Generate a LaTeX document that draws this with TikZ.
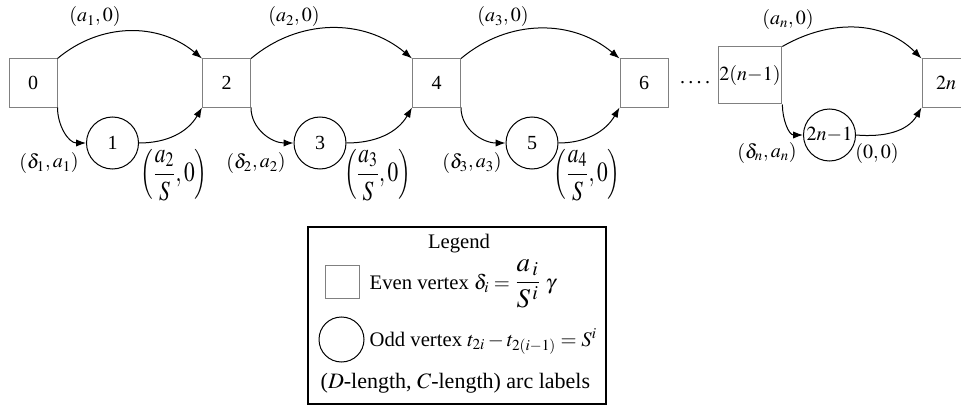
\documentclass[tikz,border=0pt]{standalone}
\usepackage{amsmath}
\usepackage{graphicx}
\usepackage{mathptmx}
\usepackage[no-math]{fontspec}
\setmainfont{Liberation Serif}
\usetikzlibrary{arrows.meta}

\begin{document}
\begin{tikzpicture}[x=0.75pt, y=0.75pt, >={Latex[length=7.5pt,width=5.5pt]},
  every node/.style={font=\fontsize{15}{18}\selectfont},
  even/.style={draw=gray, line width=0.75pt, minimum width=36pt, minimum height=36pt, inner sep=1pt},
  odd/.style={draw, circle, line width=0.75pt, minimum size=39pt, inner sep=1pt},
  arc/.style={->, line width=0.75pt},
  lbl/.style={inner sep=1pt},
  fraclbl/.style={inner sep=1pt, font=\fontsize{16}{19}\selectfont},
  legtxt/.style={anchor=base west, font=\fontsize{15.5}{18}\selectfont}]
  \useasboundingbox (0,0) rectangle (961,408);

  % Even vertices (boxes)
  \node[even] (v0) at (33,325) {0};
  \node[even] (v2) at (226.5,325) {2};
  \node[even] (v4) at (436.5,325) {4};
  \node[even] (v6) at (644,325) {6};
  \node[even, minimum width=46.5pt, minimum height=42.75pt] (vm) at (750,332.5) {$2(n{-}1)$};
  \node[even] (vn) at (946,325) {$2n$};

  % Odd vertices (circles)
  \node[odd] (v1) at (112.5,265) {1};
  \node[odd] (v3) at (320,265) {3};
  \node[odd] (v5) at (532,265) {5};
  \node[odd] (vo) at (829.5,273) {$2n{-}1$};

  \node (dots) at (695,325) {.\,.\,.\,.};

  % Arcs over the top
  \draw[arc] (v0.north east) to[out=40,in=140] (v2.north west);
  \draw[arc] (v2.north east) to[out=40,in=140] (v4.north west);
  \draw[arc] (v4.north east) to[out=40,in=140] (v6.north west);
  \draw[arc] (vm.north east) to[out=30,in=135] (vn.north west);

  % Arcs through the odd vertices
  \draw[arc] (v0.south east) to[out=-90,in=180] (v1.west);
  \draw[arc] (v1.east) to[out=0,in=-120] (v2.south west);
  \draw[arc] (v2.south east) to[out=-90,in=180] (v3.west);
  \draw[arc] (v3.east) to[out=0,in=-120] (v4.south west);
  \draw[arc] (v4.south east) to[out=-90,in=180] (v5.west);
  \draw[arc] (v5.east) to[out=0,in=-120] (v6.south west);
  \draw[arc] (vm.south east) to[out=-90,in=180] (vo.west);
  \draw[arc] (vo.east) to[out=-5,in=-120] (vn.south west);

  % Arc labels
  \node[lbl] (l02) at (95,391) {$(a_1,0)$};
  \node[lbl] (l24) at (294,391) {$(a_2,0)$};
  \node[lbl] (l46) at (503,391) {$(a_3,0)$};
  \node[lbl] (lmn) at (788,388) {$(a_n,0)$};
  \node[lbl] (l01) at (49,245) {$(\delta_1,a_1)$};
  \node[lbl] (l23) at (256,245) {$(\delta_2,a_2)$};
  \node[lbl] (l45) at (472,245) {$(\delta_3,a_3)$};
  \node[lbl] (lmo) at (767,255) {$(\delta_n,a_n)$};
  \node[fraclbl] (l12) at (174,233) {\scalebox{1}[1.3]{$\left(\dfrac{a_2}{S},0\right)$}};
  \node[fraclbl] (l34) at (377.5,233) {\scalebox{1}[1.3]{$\left(\dfrac{a_3}{S},0\right)$}};
  \node[fraclbl] (l56) at (587,233) {\scalebox{1}[1.3]{$\left(\dfrac{a_4}{S},0\right)$}};
  \node[lbl] (lon) at (877,255) {$(0,0)$};

  % Legend
  \node[draw, line width=1pt, minimum width=223.5pt, minimum height=132.75pt] (legend) at (457,92.5) {};
  \node[anchor=base, font=\fontsize{15.5}{18}\selectfont] (legtitle) at (459,160) {Legend};
  \node[draw=gray, line width=0.75pt, minimum width=25.5pt, minimum height=24.75pt] (legeven) at (342,126) {};
  \node[draw, circle, line width=0.75pt, minimum size=33.75pt] (legodd) at (341.5,68.5) {};
  \node[legtxt] (legeventxt) at (365,119) {Even vertex $\delta_i=\vcenter{\hbox{\scalebox{1.3}{$\dfrac{a_{\,i}}{S^{\,i}}$}}}\;\gamma$};
  \node[legtxt] (legoddtxt) at (365,62) {Odd vertex $t_{2i}-t_{2(i-1)}=S^i$};
  \node[legtxt, font=\fontsize{16.5}{19}\selectfont] (legarctxt) at (316,20) {($D$-length, $C$-length) arc labels};
\end{tikzpicture}
\end{document}
